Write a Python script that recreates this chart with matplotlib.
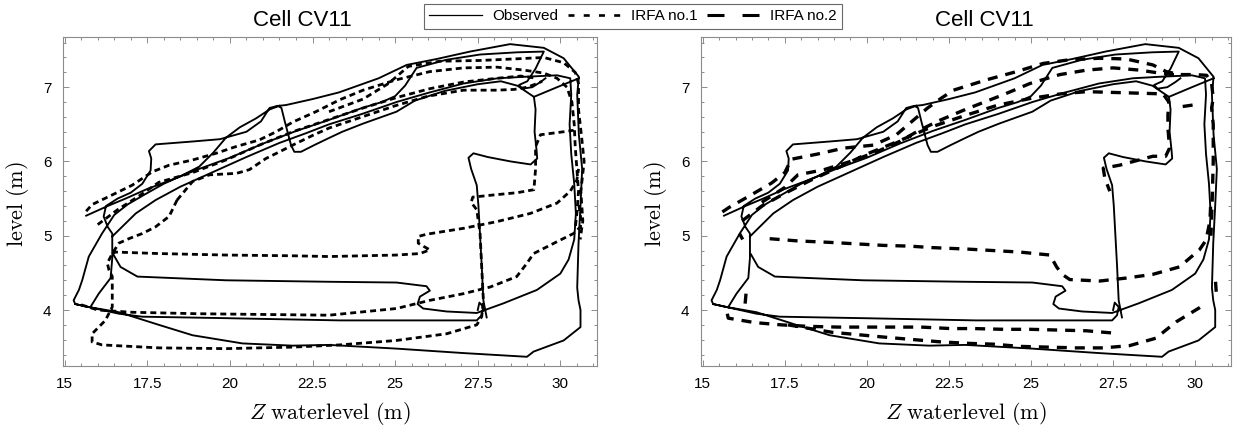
import numpy as np
import matplotlib
matplotlib.use("Agg")
import matplotlib.pyplot as plt
from matplotlib.lines import Line2D
from matplotlib.ticker import MultipleLocator, FixedLocator

nan = np.nan

# ---------------- data ----------------
title = "Cell CV11"
x_ticks = [15, 17.5, 20, 22.5, 25, 27.5, 30]
x_ticklabels = ["15", "17.5", "20", "22.5", "25", "27.5", "30"]
y_ticks = [4, 5, 6, 7]
legend_labels = ["Observed", "IRFA no.1", "IRFA no.2"]

# Observed trajectory (strokes separated by nan)
obs_z = [
    15.65, 16.3, 16.84, 17.5, 18.16, 19.07, 20.0, 21.0, 22.0, 23.0, 24.0, 24.6, 25.0, 25.3, 25.65, 26.56, 27.57, 28.7, 29.5, 29.25, 29.0, 28.75, 28.85, 29.15, 29.4, 29.55, nan,
    16.44, 17.15, 17.75, 18.5, 19.5, 20.5, 21.5, 22.3, 23.0, 24.0, 25.04, 25.5, 26.05, 27.07, 28.1, 28.9, 29.9, 30.3, 30.33, 30.28, 30.33, 30.42, 30.47, 30.42, 30.25, 30.0, 29.29, 28.28, 27.47, 26.56, 25.85, 25.68, 25.75, 26.05, 25.95, 25.04, 23.0, 19.88, 17.2, 16.69, 16.47, nan,
    15.78, 16.03, 16.39, 16.44, 16.44, 16.3, 16.18, 16.25, 16.6, 17.0, 17.35, 17.6, 17.62, 17.55, 17.75, 18.9, 19.7, 20.5, 20.94, 21.2, 21.45, 21.56, 21.66, 21.85, 21.95, 22.15, 22.55, 22.97, 23.4, 24.03, 25.04, 25.6, 26.5, 27.5, 28.2, 28.7, 29.0, 29.2, 29.25, 29.22, 29.28, 29.3, 29.1, 28.5, 27.8, 27.37, 27.22, 27.3, 27.47, 27.52, 27.57, 27.62, 27.67, 27.77, nan,
    29.2, 29.9, 30.56, nan,
    21.5, 21.7, 22.5, 23.3, 24.5, 25.35, 26.26, 27.27, 28.48, 29.5, 30.1, 30.56, 30.51, 30.56, 30.66, 30.61, 30.55, 30.51, 30.55, 30.61, 30.61, 30.1, 29.19, 28.99, 27.07, 25.04, 23.0, 21.9, 20.38, 18.87, 17.85, 16.64, 15.73, 15.32, 15.27, 15.43, 15.53, 15.73, 16.13, 16.5, 16.9, 17.4, 18.0, 18.5, 19.07, 19.5, 19.88, 20.3, 20.79, 21.2, 21.5, nan,
    15.32, 16.64, 17.35, 19.88, 23.32, 26.05, 27.47, 27.62, 27.67, 27.55, 27.5,
]
obs_level = [
    5.27, 5.40, 5.50, 5.63, 5.74, 5.90, 6.05, 6.24, 6.41, 6.56, 6.72, 6.80, 6.88, 7.02, 7.26, 7.37, 7.44, 7.47, 7.48, 7.25, 7.08, 7.03, 6.98, 7.00, 7.07, 7.12, nan,
    4.99, 5.30, 5.48, 5.66, 5.86, 6.06, 6.25, 6.38, 6.50, 6.64, 6.80, 6.86, 6.93, 7.05, 7.12, 7.14, 7.16, 7.12, 6.90, 6.50, 6.10, 5.70, 5.30, 4.95, 4.68, 4.49, 4.27, 4.09, 3.96, 3.98, 4.02, 4.08, 4.18, 4.26, 4.32, 4.37, 4.38, 4.40, 4.45, 4.58, 4.75, nan,
    4.04, 4.22, 4.43, 4.70, 5.03, 5.12, 5.26, 5.40, 5.50, 5.58, 5.70, 5.88, 6.04, 6.14, 6.23, 6.27, 6.30, 6.40, 6.54, 6.72, 6.75, 6.72, 6.54, 6.22, 6.13, 6.13, 6.22, 6.31, 6.40, 6.51, 6.67, 6.82, 6.95, 7.04, 7.08, 7.02, 6.93, 6.87, 6.70, 6.40, 6.15, 6.04, 5.96, 6.00, 6.06, 6.11, 6.05, 5.90, 5.68, 5.41, 5.00, 4.60, 4.13, 3.90, nan,
    6.87, 7.00, 7.12, nan,
    6.75, 6.76, 6.84, 6.93, 7.12, 7.30, 7.38, 7.48, 7.58, 7.53, 7.39, 7.14, 6.90, 6.36, 5.90, 5.41, 4.90, 4.30, 4.13, 4.00, 3.77, 3.59, 3.44, 3.37, 3.42, 3.48, 3.53, 3.52, 3.55, 3.66, 3.80, 3.97, 4.04, 4.08, 4.13, 4.27, 4.40, 4.72, 5.03, 5.28, 5.42, 5.55, 5.70, 5.80, 5.93, 6.12, 6.32, 6.46, 6.58, 6.70, 6.75, nan,
    4.08, 3.95, 3.91, 3.89, 3.86, 3.86, 3.86, 3.93, 4.04, 4.10, 4.00,
]

# IRFA no.1 (left panel, dotted)
irfa1_z = [
    15.65, 15.83, 16.44, 17.04, 17.65, 18.16, 18.87, 19.58, 20.18, 20.89, 21.4, 21.9, 22.6, 23.32, 24.03, 25.04, 26.05, 27.07, 28.08, 28.9, 29.5, 29.9, 30.2, 30.35, 30.42, 30.45, 30.5, 30.55, 30.5, 30.45, nan,
    23.0, 24.03, 24.8, 25.4, 26.36, 27.57, 28.58, 29.5, 30.1, 30.45, 30.55, 30.55, 30.65, 30.72, 30.62, 30.68, 30.6, nan,
    18.4, 18.87, 19.38, 20.2, 20.59, 21.09, 21.5, 21.9, 22.5, 23.0, 24.0, 25.0, 26.0, 27.07, 28.08, 28.6, 29.0, 29.3, 29.45, nan,
    16.0, 16.6, 17.3, 17.85, 18.87, 19.88, 20.89, 21.9, 22.9, 24.03, 25.04, 26.05, 27.07, 28.08, 28.8, 29.3, nan,
    18.4, 18.16, 17.75, 17.35, 16.94, 16.64, 16.44, 16.29, 16.34, 16.44, 16.44, 16.23, 15.83, 15.83, 16.13, 17.85, 19.88, 21.9, 23.32, 25.04, 26.56, 27.47, 27.62, 27.67, 27.62, 27.57, 27.47, 27.3, 27.35, 28.0, 28.7, 29.2, 29.25, 29.25, 29.4, 30.1, 30.4, nan,
    16.44, 16.54, 17.85, 19.88, 21.9, 23.0, 25.04, 25.75, 26.05, 25.85, 25.7, 25.7, 25.95, 27.07, 28.08, 29.09, 29.9, 30.3, 30.5, 30.55, nan,
    15.5, 16.0, 17.0, 19.0, 21.0, 23.0, 25.04, 26.05, 27.07, 27.88, 28.68, 28.99, 29.19, 29.9, 30.4, 30.61, 30.61, 30.55,
]
irfa1_level = [
    5.33, 5.42, 5.55, 5.68, 5.86, 5.95, 6.02, 6.11, 6.20, 6.29, 6.40, 6.53, 6.67, 6.83, 6.96, 7.10, 7.21, 7.26, 7.27, 7.23, 7.19, 7.12, 7.00, 6.80, 6.50, 6.20, 5.90, 5.60, 5.30, 5.10, nan,
    6.67, 6.84, 7.05, 7.28, 7.35, 7.36, 7.38, 7.40, 7.33, 7.20, 7.05, 6.70, 6.30, 6.00, 5.60, 5.20, 4.95, nan,
    5.48, 5.73, 5.82, 5.84, 5.89, 6.04, 6.13, 6.22, 6.35, 6.45, 6.60, 6.75, 6.88, 6.96, 6.96, 6.97, 7.00, 7.05, 7.08, nan,
    5.15, 5.35, 5.55, 5.72, 5.85, 6.02, 6.22, 6.40, 6.55, 6.72, 6.86, 6.98, 7.07, 7.12, 7.15, 7.12, nan,
    5.48, 5.26, 5.12, 5.03, 4.96, 4.90, 4.76, 4.63, 4.54, 4.45, 4.04, 3.86, 3.68, 3.57, 3.53, 3.49, 3.48, 3.50, 3.53, 3.59, 3.68, 3.80, 3.91, 4.13, 4.58, 5.03, 5.35, 5.45, 5.52, 5.55, 5.58, 5.62, 5.90, 6.20, 6.36, 6.40, 6.42, nan,
    4.76, 4.78, 4.76, 4.74, 4.73, 4.72, 4.74, 4.76, 4.81, 4.86, 4.90, 4.99, 5.02, 5.10, 5.19, 5.30, 5.44, 5.60, 5.75, 5.90, nan,
    4.07, 4.00, 3.97, 3.95, 3.94, 3.93, 4.02, 4.13, 4.22, 4.31, 4.45, 4.63, 4.76, 4.92, 5.03, 5.12, 5.26, 5.45,
]

# IRFA no.2 (right panel, dashed)
irfa2_z = [
    15.6, 15.8, 16.4, 17.1, 17.5, 17.7, 18.5, 19.3, 20.2, 20.9, 21.4, 21.85, 22.26, 22.64, 23.65, 24.56, 25.37, 26.18, 27.09, 27.9, 28.71, 29.12, 29.52, 30.0, 30.35, 30.5, 30.55, 30.5, 30.55, 30.55, 30.52, 30.48, nan,
    16.8, 17.5, 17.9, 18.7, 19.5, 20.3, 21.0, 21.6, 22.2, 23.0, 24.16, 24.97, 25.88, 26.69, 27.5, 28.31, 28.91, 29.3, 29.6, nan,
    16.2, 16.8, 17.5, 18.3, 19.2, 20.0, 21.0, 22.0, 23.0, 24.0, 25.0, 25.9, 26.69, 27.5, 28.31, 29.02, 29.2, 29.17, 29.17, 29.22, 29.1, 28.71, 28.2, 27.7, 27.2, 27.25, 27.4, nan,
    16.12, 16.22, nan,
    17.04, 17.9, 18.9, 19.73, 20.5, 21.3, 22.0, 23.07, 23.85, 24.66, 25.58, 25.78, 25.95, 26.18, 27.09, 27.9, 28.71, 29.52, 30.13, 30.33, 30.45, 30.48, nan,
    16.32, 16.28, nan,
    15.75, 15.78, 16.59, 17.39, 18.2, 19.12, 19.93, 20.84, 21.65, 22.56, 23.25, 24.16, 24.97, 25.88, 26.69, 27.5, 27.6, nan,
    17.6, 18.94, 20.65, 21.46, 22.27, 23.15, 23.85, 24.66, 25.58, 26.38, 27.2, 28.0, 28.8, 29.42, 30.13, 30.33, nan,
    30.62, 30.65, nan,
    29.62, 29.93,
]
irfa2_level = [
    5.32, 5.38, 5.53, 5.71, 5.85, 6.03, 6.10, 6.18, 6.22, 6.36, 6.55, 6.72, 6.85, 6.96, 7.10, 7.21, 7.32, 7.37, 7.39, 7.38, 7.30, 7.21, 7.17, 7.17, 7.16, 7.05, 6.85, 6.72, 6.50, 6.00, 5.50, 5.00, nan,
    5.45, 5.65, 5.82, 5.89, 6.00, 6.13, 6.27, 6.42, 6.55, 6.70, 6.90, 7.05, 7.17, 7.23, 7.26, 7.23, 7.19, 7.17, 7.17, nan,
    5.20, 5.40, 5.57, 5.75, 5.93, 6.10, 6.28, 6.47, 6.62, 6.76, 6.85, 6.91, 6.94, 6.93, 6.92, 6.91, 6.80, 6.63, 6.45, 6.18, 6.07, 6.07, 6.01, 5.95, 5.91, 5.77, 5.60, nan,
    5.03, 4.95, nan,
    4.96, 4.93, 4.91, 4.89, 4.87, 4.86, 4.84, 4.82, 4.80, 4.78, 4.74, 4.58, 4.48, 4.41, 4.39, 4.43, 4.48, 4.58, 4.81, 4.94, 5.20, 5.50, nan,
    4.22, 4.02, nan,
    3.95, 3.89, 3.83, 3.80, 3.78, 3.77, 3.77, 3.77, 3.77, 3.75, 3.75, 3.74, 3.74, 3.73, 3.72, 3.69, 3.68, nan,
    3.80, 3.70, 3.63, 3.60, 3.57, 3.55, 3.54, 3.51, 3.50, 3.49, 3.49, 3.52, 3.62, 3.84, 4.03, 4.09, nan,
    4.38, 4.18, nan,
    6.74, 6.76,
]

# ---------------- styling ----------------
plt.rcParams["font.family"] = ["Liberation Sans", "DejaVu Sans"]
plt.rcParams["mathtext.fontset"] = "cm"
W, H = 1234, 425
fig = plt.figure(figsize=(W / 100, H / 100), dpi=100)

frame_col = "#8c8c8c"
tick_family = ["Liberation Sans Narrow", "Liberation Sans", "DejaVu Sans"]
obs_style = dict(color="black", lw=1.35, solid_joinstyle="round")
i1_style = dict(color="black", lw=2.0, linestyle=(0, (2.15, 1.45)))
i2_style = dict(color="black", lw=2.4, linestyle=(0, (3.0, 2.4)))

def make_axes(left_px, right_px):
    top_px, bottom_px = 36.7, 365.7
    ax = fig.add_axes([left_px / W, 1 - bottom_px / H,
                       (right_px - left_px) / W, (bottom_px - top_px) / H])
    ax.set_xlim(14.94, 31.1)
    ax.set_ylim(3.25, 7.68)
    ax.xaxis.set_major_locator(FixedLocator(x_ticks))
    ax.set_xticklabels(x_ticklabels)
    ax.yaxis.set_major_locator(FixedLocator(y_ticks))
    ax.xaxis.set_minor_locator(MultipleLocator(0.5))
    ax.yaxis.set_minor_locator(MultipleLocator(0.2))
    ax.tick_params(which="both", direction="in", top=True, right=True,
                   color=frame_col, width=0.7)
    ax.tick_params(which="major", length=4, labelsize=11, pad=8)
    ax.tick_params(which="minor", length=2.2)
    for lbl in ax.get_xticklabels() + ax.get_yticklabels():
        lbl.set_fontfamily(tick_family)
    for s in ax.spines.values():
        s.set_color(frame_col)
        s.set_linewidth(0.8)
    ax.set_xlabel(r"$Z\ \mathrm{waterlevel\ (m)}$", fontsize=16)
    ax.set_ylabel(r"$\mathrm{level\ (m)}$", fontsize=16)
    ax.xaxis.set_label_coords(0.5, -0.105)
    ax.yaxis.set_label_coords(-0.06, 0.49)
    return ax

ax1 = make_axes(62.7, 596.7)
ax1.plot(obs_z, obs_level, **obs_style)
ax1.plot(irfa1_z, irfa1_level, **i1_style)

ax2 = make_axes(700.7, 1231.3)
ax2.plot(obs_z, obs_level, **obs_style)
ax2.plot(irfa2_z, irfa2_level, **i2_style)

fig.text(302 / W, 1 - 20 / H, title, ha="center", va="center", fontsize=16)
fig.text(984 / W, 1 - 20 / H, title, ha="center", va="center", fontsize=16)

handles = [
    Line2D([], [], color="black", lw=0.9),
    Line2D([], [], color="black", lw=1.9, linestyle=(0, (2.27, 3.5))),
    Line2D([], [], color="black", lw=2.2, linestyle=(0, (5.56, 5.9))),
]
leg = fig.legend(handles, legend_labels, loc="upper left",
                 bbox_to_anchor=(423.7 / W, 1 - 4 / H), ncol=3, fontsize=11,
                 frameon=True, fancybox=False, borderaxespad=0,
                 handlelength=3.45, handletextpad=0.7, columnspacing=0.6,
                 borderpad=0.35)
leg.get_frame().set_edgecolor("#444444")
leg.get_frame().set_linewidth(0.8)

fig.savefig("out.png", dpi=100)
